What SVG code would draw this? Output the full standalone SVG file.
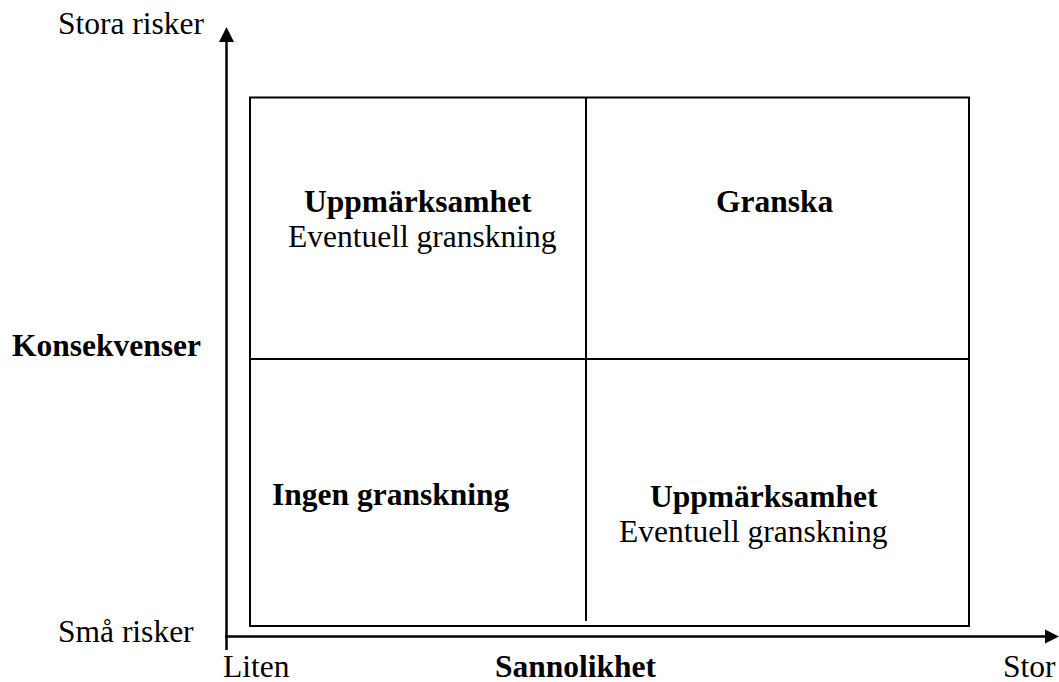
<svg xmlns="http://www.w3.org/2000/svg" width="1059" height="682" viewBox="0 0 1059 682">
<style>
text{font-family:"Liberation Serif","Times New Roman",serif;font-size:31.5px;fill:#000}
.b{font-weight:bold}
.box{fill:none;stroke:#000;stroke-width:2}
.axis{stroke:#000;stroke-width:2.5;fill:none}
</style>
<rect width="1059" height="682" fill="#fff"/>
<g id="connectors">
<line class="axis" x1="226.5" y1="650" x2="226.5" y2="40"/>
<polygon points="226.5,27 219,42 234,42" fill="#000"/>
<line class="axis" x1="225" y1="636.5" x2="1048" y2="636.5"/>
<polygon points="1059,636.5 1045,629.5 1045,643.5" fill="#000"/>
</g>
<g id="grid">
<rect class="box" x="250" y="97.5" width="719" height="528.5"/>
<line class="box" x1="586" y1="97.5" x2="586" y2="621"/>
<line class="box" x1="250" y1="359" x2="969" y2="359"/>
</g>
<g id="axis-labels">
<text x="58" y="34">Stora risker</text>
<text class="b" x="12" y="356">Konsekvenser</text>
<text x="58" y="642">Små risker</text>
<text x="223" y="677">Liten</text>
<text class="b" x="495" y="677">Sannolikhet</text>
<text x="1003" y="677">Stor</text>
</g>
<g id="cell-top-left">
<text class="b" x="304" y="212">Uppmärksamhet</text>
<text x="288" y="247">Eventuell granskning</text>
</g>
<g id="cell-top-right">
<text class="b" x="716" y="212">Granska</text>
</g>
<g id="cell-bottom-left">
<text class="b" x="272" y="505">Ingen granskning</text>
</g>
<g id="cell-bottom-right">
<text class="b" x="650" y="507">Uppmärksamhet</text>
<text x="619" y="542">Eventuell granskning</text>
</g>
</svg>
